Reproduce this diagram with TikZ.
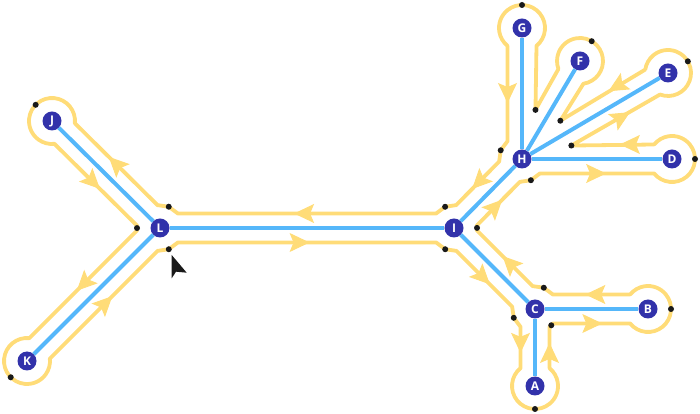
\documentclass[tikz,border=0pt]{standalone}
\usepackage{fontspec}
\newfontfamily\nodefont{Open Sans}
\usepackage{tikz}
\usetikzlibrary{calc}
\usetikzlibrary{arrows.meta}
\definecolor{nodeblue}{RGB}{50,50,170}
\definecolor{edgeblue}{RGB}{85,183,250}
\definecolor{tourgold}{RGB}{255,220,120}
\tikzset{treenode/.style={circle,
                        fill=nodeblue,
                        text=white,
                        minimum size=19pt,
                        inner sep=0pt,
                        font=\nodefont\bfseries\fontsize{12}{12}\selectfont
                        },
        treeedge/.style={edgeblue, line width=4pt},
        tourline/.style={tourgold, line width=3.8pt, line join=round},
        tourtip/.style={tourgold, line width=1pt,
                        -{Stealth[length=20pt, width=19pt, inset=4pt]}},
        tourdot/.style={fill=black!90},
}
\def\tourgap{14.5pt}
\def\tourcut{17.85pt}
\def\tourrad{23pt}
\newcommand{\leafarc}[2]{let \p1 = ($(#2)-(#1)$), \n1 = {atan2(\y1,\x1)} in
    arc[start angle=\n1+39.1, delta angle=281.8, radius=\tourrad]}

\begin{document}
\begin{tikzpicture}
    [x=1pt,y=1pt]
    \useasboundingbox (0,0) rectangle (700,414);

    % NODES
    \node[treenode] (L) at (160,186) {L};
    \node[treenode] (J) at (52,293) {J};
    \node[treenode] (K) at (27,53) {K};
    \node[treenode] (I) at (454,186) {I};
    \node[treenode] (H) at (522,255) {H};
    \node[treenode] (G) at (522,386) {G};
    \node[treenode] (F) at (580,353) {F};
    \node[treenode] (E) at (668,341) {E};
    \node[treenode] (D) at (672,255) {D};
    \node[treenode] (C) at (535,105) {C};
    \node[treenode] (B) at (648,105) {B};
    \node[treenode] (A) at (535,28) {A};

    \foreach \aa/\bb in {L/I,L/J,L/K,I/C,I/H,C/A,C/B,H/D,H/E,H/F,H/G}
        \draw[treeedge] (\aa) -- (\bb);

    % TOUR
    \foreach \pp/\qq in {L/I,I/L,L/J,J/L,L/K,K/L,I/C,C/I,I/H,H/I,C/A,A/C,
                         C/B,B/C,H/D,D/H,H/E,E/H,H/F,F/H,H/G,G/H} {
        \coordinate (\pp\qq a) at ($(\pp)!\tourcut!(\qq)!\tourgap!-90:(\qq)$);
        \coordinate (\pp\qq b) at ($(\qq)!\tourcut!(\pp)!\tourgap!90:(\pp)$);
    }
    \foreach \pp/\nn/\qq in {I/L/J,J/L/K,K/L/I,L/I/C,C/I/H,H/I/L,
                             I/C/A,A/C/B,B/C/I,I/H/D,G/H/I} {
        \coordinate (m\pp\nn\qq) at ($(\pp\nn b)!.5!(\nn\qq a)$);
        \coordinate (d\pp\nn\qq) at ($(\nn)!\tourrad!(m\pp\nn\qq)$);
    }
    \foreach \pp/\nn/\qq in {D/H/E,E/H/F,F/H/G} {
        \coordinate (x\pp\nn\qq) at (intersection of \pp\nn a--\pp\nn b and \nn\qq a--\nn\qq b);
        \coordinate (d\pp\nn\qq) at ($(x\pp\nn\qq)!4pt!(\nn)$);
    }

    \draw[tourline] (ILa) -- (ILb) -- (dILJ) -- (LJa) -- (LJb) \leafarc{J}{L}
        -- (JLa) -- (JLb) -- (dJLK) -- (LKa) -- (LKb) \leafarc{K}{L}
        -- (KLa) -- (KLb) -- (dKLI) -- (LIa) -- (LIb) -- (dLIC)
        -- (ICa) -- (ICb) -- (dICA) -- (CAa) -- (CAb) \leafarc{A}{C}
        -- (ACa) -- (ACb) -- (dACB) -- (CBa) -- (CBb) \leafarc{B}{C}
        -- (BCa) -- (BCb) -- (dBCI) -- (CIa) -- (CIb) -- (dCIH)
        -- (IHa) -- (IHb) -- (dIHD) -- (HDa) -- (HDb) \leafarc{D}{H}
        -- (DHa) -- (dDHE) -- (HEb) \leafarc{E}{H}
        -- (EHa) -- (dEHF) -- (HFb) \leafarc{F}{H}
        -- (FHa) -- (dFHG) -- (HGb) \leafarc{G}{H}
        -- (GHa) -- (GHb) -- (dGHI) -- (HIa) -- (HIb) -- (dHIL) -- cycle;

    \foreach \pp/\qq/\ff in {I/L/0.55,L/I/0.51,L/J/0.59,J/L/0.55,L/K/0.56,K/L/0.58,
                             G/H/0.6,H/E/0.74,E/H/0.32,H/D/0.58,D/H/0.3,H/I/0.63,
                             I/H/0.59,I/C/0.6,C/A/0.63,A/C/0.61,C/B/0.64,B/C/0.58,C/I/0.54}
        \draw[tourtip] ($(\pp\qq a)!\ff-0.15!(\pp\qq b)$) -- ($(\pp\qq a)!\ff!(\pp\qq b)$);

    % DOTS
    \foreach \dd in {ILJ,JLK,KLI,LIC,CIH,HIL,ICA,ACB,BCI,IHD,GHI,DHE,EHF,FHG}
        \fill[tourdot] (d\dd) circle[radius=3pt];
    \foreach \lf/\pr in {J/L,K/L,A/C,B/C,D/H,E/H,F/H,G/H}
        \fill[tourdot] ($(\lf)!\tourrad!180:(\pr)$) circle[radius=3pt];

    % CURSOR
    \fill[black!90] (171.7,159) -- (171.7,135.7) -- (176,142.3) -- (186.7,141.3) -- cycle;

\end{tikzpicture}
\end{document}
